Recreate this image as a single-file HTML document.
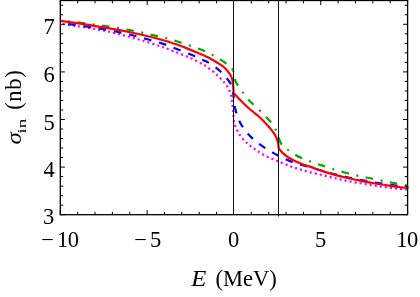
<!DOCTYPE html>
<html><head><meta charset="utf-8"><title>plot</title>
<style>
html,body{margin:0;padding:0;background:#fff;}
body{width:420px;height:297px;overflow:hidden;font-family:"Liberation Serif",serif;}
svg{display:block;will-change:transform;}
text{font-family:"Liberation Serif",serif;fill:#000;}
</style></head><body>
<svg width="420" height="297" viewBox="0 0 420 297">
<rect width="420" height="297" fill="#fff"/>
<g fill="none" stroke-linecap="butt" stroke-linejoin="round" stroke-width="2.2">
<path d="M60.30 23.80 C62.92 24.17 70.55 25.20 76.00 26.00 C81.45 26.80 89.00 27.95 93.00 28.60 C97.00 29.25 97.17 29.35 100.00 29.90 C102.83 30.45 106.67 31.17 110.00 31.90 C113.33 32.63 116.67 33.45 120.00 34.30 C123.33 35.15 126.67 36.07 130.00 37.00 C133.33 37.93 136.67 38.90 140.00 39.90 C143.33 40.90 146.53 41.90 150.00 43.00 C153.47 44.10 157.60 45.42 160.80 46.50 C164.00 47.58 164.42 47.65 169.20 49.50 C173.98 51.35 183.88 55.12 189.50 57.60 C195.12 60.08 199.95 62.83 202.90 64.40 C205.85 65.97 205.70 65.98 207.20 67.00 C208.70 68.02 210.45 69.33 211.90 70.50 C213.35 71.67 214.62 72.82 215.90 74.00 C217.18 75.18 218.38 76.40 219.60 77.60 C220.82 78.80 222.02 79.90 223.20 81.20 C224.38 82.50 225.75 84.00 226.70 85.40 C227.65 86.80 228.22 88.05 228.90 89.60 C229.58 91.15 230.32 93.02 230.80 94.70 C231.28 96.38 231.53 98.00 231.80 99.70 C232.07 101.40 232.20 103.18 232.40 104.90 C232.60 106.62 232.85 108.45 233.00 110.00 C233.15 111.55 233.18 112.50 233.30 114.20 C233.43 115.90 233.45 118.35 233.75 120.20 C234.05 122.05 234.54 123.62 235.10 125.30 C235.66 126.98 236.40 128.80 237.10 130.30 C237.80 131.80 238.37 132.90 239.30 134.30 C240.23 135.70 241.58 137.38 242.70 138.70 C243.82 140.02 244.73 141.02 246.00 142.20 C247.27 143.38 248.88 144.68 250.30 145.80 C251.72 146.92 253.18 147.93 254.50 148.90 C255.82 149.87 256.40 150.47 258.20 151.60 C260.00 152.73 262.95 154.48 265.30 155.70 C267.65 156.92 270.12 157.95 272.30 158.90 C274.48 159.85 276.03 160.43 278.40 161.40 C280.77 162.37 283.82 163.65 286.50 164.70 C289.18 165.75 291.82 166.80 294.50 167.70 C297.18 168.60 299.90 169.32 302.60 170.10 C305.30 170.88 307.38 171.57 310.70 172.40 C314.02 173.23 318.45 174.12 322.50 175.10 C326.55 176.07 330.83 177.27 335.00 178.25 C339.17 179.23 343.33 180.17 347.50 181.00 C351.67 181.83 355.83 182.53 360.00 183.25 C364.17 183.97 368.33 184.64 372.50 185.30 C376.67 185.96 380.83 186.63 385.00 187.20 C389.17 187.77 393.62 188.30 397.50 188.70 C401.38 189.10 406.50 189.45 408.30 189.60" stroke="#ff00ff" stroke-dasharray="2.1 3.0" stroke-dashoffset="2.6"/>
<path d="M60.30 23.00 C62.92 23.33 70.55 24.25 76.00 25.00 C81.45 25.75 88.45 26.80 93.00 27.50 C97.55 28.20 99.08 28.45 103.30 29.20 C107.52 29.95 113.30 30.95 118.30 32.00 C123.30 33.05 128.30 34.25 133.30 35.50 C138.30 36.75 143.30 38.10 148.30 39.50 C153.30 40.90 158.35 42.25 163.30 43.90 C168.25 45.55 173.00 47.45 178.00 49.40 C183.00 51.35 189.27 53.87 193.30 55.60 C197.33 57.33 199.75 58.67 202.20 59.80 C204.65 60.93 205.83 61.17 208.00 62.40 C210.17 63.63 213.03 65.60 215.20 67.20 C217.37 68.80 219.15 70.23 221.00 72.00 C222.85 73.77 224.80 76.03 226.30 77.80 C227.80 79.57 229.00 80.82 230.00 82.60 C231.00 84.38 231.73 86.43 232.30 88.50 C232.87 90.57 233.12 92.92 233.40 95.00" stroke="#0000ff" stroke-dasharray="7.55 7.93" stroke-dashoffset="7.55"/>
<path d="M233.40 95.00 C233.68 97.08 233.77 99.00 234.00 101.00 C234.23 103.00 234.40 104.97 234.80 107.00 C235.20 109.03 235.65 110.87 236.40 113.20 C237.15 115.53 238.25 118.70 239.30 121.00 C240.35 123.30 241.27 124.87 242.70 127.00 C244.13 129.13 246.18 131.82 247.90 133.80 C249.62 135.78 251.15 137.22 253.00 138.90 C254.85 140.58 256.95 142.38 259.00 143.90 C261.05 145.42 263.08 146.58 265.30 148.00 C267.52 149.42 270.12 151.12 272.30 152.40 C274.48 153.68 276.20 154.57 278.40 155.70 C280.60 156.83 283.15 158.13 285.50 159.20 C287.85 160.27 289.32 161.00 292.50 162.10 C295.68 163.20 299.60 164.35 304.60 165.80 C309.60 167.25 317.43 169.37 322.50 170.80 C327.57 172.23 330.83 173.32 335.00 174.40 C339.17 175.48 343.33 176.40 347.50 177.30 C351.67 178.20 355.83 179.00 360.00 179.80 C364.17 180.60 368.33 181.40 372.50 182.10 C376.67 182.80 380.83 183.38 385.00 184.00 C389.17 184.62 393.62 185.25 397.50 185.80 C401.38 186.35 406.50 187.05 408.30 187.30" stroke="#0000ff" stroke-dasharray="7.5 7.9" stroke-dashoffset="4.26"/>
<path d="M60.30 20.50 C62.92 20.78 70.55 21.55 76.00 22.20 C81.45 22.85 88.45 23.80 93.00 24.40 C97.55 25.00 99.13 25.22 103.30 25.80 C107.47 26.38 113.55 27.17 118.00 27.90 C122.45 28.63 126.05 29.42 130.00 30.20 C133.95 30.98 137.67 31.73 141.70 32.60 C145.73 33.47 150.10 34.45 154.20 35.40 C158.30 36.35 162.33 37.25 166.30 38.30 C170.27 39.35 172.38 39.88 178.00 41.70 C183.62 43.52 194.17 46.95 200.00 49.20 C205.83 51.45 209.02 53.08 213.00 55.20 C216.98 57.32 221.07 59.97 223.90 61.90 C226.73 63.83 228.48 65.37 230.00 66.80 C231.52 68.23 232.30 68.97 233.00 70.50" stroke="#00a800" stroke-dasharray="7.7 7.5 2 7.5" stroke-dashoffset="7.5"/>
<path d="M233.00 70.50 C233.70 72.03 233.78 74.20 234.20 76.00 C234.62 77.80 234.93 79.85 235.50 81.30 C236.07 82.75 236.45 82.95 237.60 84.70 C238.75 86.45 240.58 89.30 242.40 91.80 C244.22 94.30 246.70 97.62 248.50 99.70 C250.30 101.78 251.32 102.48 253.20 104.30 C255.08 106.12 257.63 108.50 259.80 110.60 C261.97 112.70 264.28 114.88 266.20 116.90 C268.12 118.92 269.80 120.75 271.30 122.70 C272.80 124.65 274.12 126.72 275.20 128.60 C276.28 130.48 277.13 132.25 277.80 134.00 C278.47 135.75 278.60 137.42 279.20 139.10 C279.80 140.78 280.60 142.78 281.40 144.10 C282.20 145.42 282.90 146.05 284.00 147.00 C285.10 147.95 286.07 148.47 288.00 149.80 C289.93 151.13 293.17 153.55 295.60 155.00 C298.03 156.45 300.20 157.45 302.60 158.50 C305.00 159.55 307.47 160.35 310.00 161.30 C312.53 162.25 315.72 163.48 317.80 164.20 C319.88 164.92 319.84 164.73 322.50 165.60 C325.16 166.47 329.58 168.12 333.75 169.40 C337.92 170.68 343.12 172.11 347.50 173.25 C351.88 174.39 355.83 175.33 360.00 176.25 C364.17 177.17 368.33 177.91 372.50 178.75 C376.67 179.59 381.25 180.54 385.00 181.30 C388.75 182.06 391.12 182.56 395.00 183.30 C398.88 184.04 406.08 185.34 408.30 185.75" stroke="#00a800" stroke-dasharray="7.7 7.5 2 7.5" stroke-dashoffset="16.09"/>
<path d="M60.30 20.90 C63.58 21.35 73.38 22.62 80.00 23.60 C86.62 24.58 93.88 25.78 100.00 26.80 C106.12 27.82 111.15 28.67 116.70 29.70 C122.25 30.73 127.75 31.82 133.30 33.00 C138.85 34.18 143.88 35.25 150.00 36.80 C156.12 38.35 163.73 40.33 170.00 42.30 C176.27 44.27 182.60 46.68 187.60 48.60 C192.60 50.52 196.48 52.27 200.00 53.80 C203.52 55.33 205.80 56.32 208.70 57.80 C211.60 59.28 215.18 61.38 217.40 62.70 C219.62 64.02 220.57 64.62 222.00 65.70 C223.43 66.78 224.83 68.02 226.00 69.20 C227.17 70.38 228.13 71.60 229.00 72.80 C229.87 74.00 230.62 75.12 231.20 76.40 C231.78 77.68 232.17 78.90 232.50 80.50 C232.83 82.10 233.02 83.88 233.20 86.00 C233.38 88.12 233.53 92.00 233.60 93.20 C234.35 93.95 236.50 96.07 238.10 97.70 C239.70 99.33 241.52 101.33 243.20 103.00 C244.88 104.67 246.52 106.20 248.20 107.70 C249.88 109.20 251.62 110.62 253.30 112.00 C254.98 113.38 256.85 114.75 258.30 116.00 C259.75 117.25 260.70 118.22 262.00 119.50 C263.30 120.78 264.57 122.02 266.10 123.70 C267.63 125.38 269.88 127.98 271.20 129.60 C272.52 131.22 273.15 132.10 274.00 133.40 C274.85 134.70 275.67 135.97 276.30 137.40 C276.93 138.83 277.43 140.62 277.80 142.00 C278.17 143.38 278.35 144.60 278.50 145.70 C278.65 146.80 278.67 148.12 278.70 148.60 C279.48 149.43 281.43 151.90 283.40 153.60 C285.37 155.30 287.63 157.13 290.50 158.80 C293.37 160.47 297.23 162.25 300.60 163.60 C303.97 164.95 307.05 165.65 310.70 166.90 C314.35 168.15 318.45 169.77 322.50 171.10 C326.55 172.43 330.83 173.75 335.00 174.90 C339.17 176.05 343.33 177.05 347.50 178.00 C351.67 178.95 355.83 179.77 360.00 180.60 C364.17 181.43 368.33 182.27 372.50 183.00 C376.67 183.73 380.83 184.37 385.00 185.00 C389.17 185.63 393.62 186.24 397.50 186.80 C401.38 187.36 406.50 188.09 408.30 188.35" stroke="#ff0000"/>
</g>
<g stroke="#111" stroke-width="1" fill="none">
<path d="M233.5 0.5 V214.7"/>
<path d="M278.5 0.5 V216.5"/>
</g>
<g stroke="#000" stroke-width="1.3" fill="none">
<rect x="60.3" y="0.5" width="347.3" height="214.2"/>
</g>
<g stroke="#000" stroke-width="1" fill="none"><path d="M60.30 214.70 v-4.60 M60.30 0.50 v4.60"/><path d="M77.66 214.70 v-2.90 M77.66 0.50 v2.90"/><path d="M95.03 214.70 v-2.90 M95.03 0.50 v2.90"/><path d="M112.40 214.70 v-2.90 M112.40 0.50 v2.90"/><path d="M129.76 214.70 v-2.90 M129.76 0.50 v2.90"/><path d="M147.12 214.70 v-4.60 M147.12 0.50 v4.60"/><path d="M164.49 214.70 v-2.90 M164.49 0.50 v2.90"/><path d="M181.85 214.70 v-2.90 M181.85 0.50 v2.90"/><path d="M199.22 214.70 v-2.90 M199.22 0.50 v2.90"/><path d="M216.59 214.70 v-2.90 M216.59 0.50 v2.90"/><path d="M251.31 214.70 v-2.90 M251.31 0.50 v2.90"/><path d="M268.68 214.70 v-2.90 M268.68 0.50 v2.90"/><path d="M286.05 214.70 v-2.90 M286.05 0.50 v2.90"/><path d="M303.41 214.70 v-2.90 M303.41 0.50 v2.90"/><path d="M320.78 214.70 v-4.60 M320.78 0.50 v4.60"/><path d="M338.14 214.70 v-2.90 M338.14 0.50 v2.90"/><path d="M355.51 214.70 v-2.90 M355.51 0.50 v2.90"/><path d="M372.87 214.70 v-2.90 M372.87 0.50 v2.90"/><path d="M390.24 214.70 v-2.90 M390.24 0.50 v2.90"/><path d="M407.60 214.70 v-4.60 M407.60 0.50 v4.60"/><path d="M60.30 214.70 h4.60 M407.60 214.70 h-4.60"/><path d="M60.30 205.18 h2.90 M407.60 205.18 h-2.90"/><path d="M60.30 195.66 h2.90 M407.60 195.66 h-2.90"/><path d="M60.30 186.14 h2.90 M407.60 186.14 h-2.90"/><path d="M60.30 176.62 h2.90 M407.60 176.62 h-2.90"/><path d="M60.30 167.10 h4.60 M407.60 167.10 h-4.60"/><path d="M60.30 157.58 h2.90 M407.60 157.58 h-2.90"/><path d="M60.30 148.06 h2.90 M407.60 148.06 h-2.90"/><path d="M60.30 138.54 h2.90 M407.60 138.54 h-2.90"/><path d="M60.30 129.02 h2.90 M407.60 129.02 h-2.90"/><path d="M60.30 119.50 h4.60 M407.60 119.50 h-4.60"/><path d="M60.30 109.98 h2.90 M407.60 109.98 h-2.90"/><path d="M60.30 100.46 h2.90 M407.60 100.46 h-2.90"/><path d="M60.30 90.94 h2.90 M407.60 90.94 h-2.90"/><path d="M60.30 81.42 h2.90 M407.60 81.42 h-2.90"/><path d="M60.30 71.90 h4.60 M407.60 71.90 h-4.60"/><path d="M60.30 62.38 h2.90 M407.60 62.38 h-2.90"/><path d="M60.30 52.86 h2.90 M407.60 52.86 h-2.90"/><path d="M60.30 43.34 h2.90 M407.60 43.34 h-2.90"/><path d="M60.30 33.82 h2.90 M407.60 33.82 h-2.90"/><path d="M60.30 24.30 h4.60 M407.60 24.30 h-4.60"/><path d="M60.30 14.78 h2.90 M407.60 14.78 h-2.90"/><path d="M60.30 5.26 h2.90 M407.60 5.26 h-2.90"/></g>
<g font-size="22.5" text-anchor="middle">
<text x="49.2" y="33.7">7</text>
<text x="49.2" y="81.8">6</text>
<text x="49.2" y="129.6">5</text>
<text x="49.2" y="177.2">4</text>
<text x="48.7" y="223.6">3</text>
<text x="47.7" y="246.7" >−</text><text x="67.8" y="246.7" letter-spacing="-0.5">10</text>
<text x="140.5" y="246.7">−</text><text x="155.7" y="246.7">5</text>
<text x="233.7" y="246.7">0</text>
<text x="320.6" y="246.7">5</text>
<text x="407" y="246.7" letter-spacing="-0.5">10</text>
</g>
<g font-size="22.5">
<text x="0" y="0" font-style="italic" transform="translate(191.3 285.7) scale(1.1 1)">E</text>
<text x="215.5" y="285.7">(MeV)</text>
</g>
<g transform="translate(21.4 144.5) rotate(-90)" font-size="22.5">
<text x="0" y="0" font-style="italic" transform="scale(1.1 0.9)">σ</text>
<text x="0" y="0" font-size="13.4" transform="translate(10.8 4.3) scale(1.45 1)">in</text>
<text x="34.7" y="0" letter-spacing="0.65">(nb)</text>
</g>
</svg>
</body></html>
